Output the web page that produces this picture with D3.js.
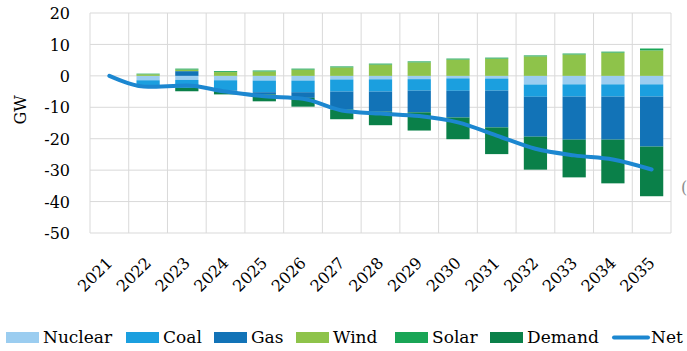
<!DOCTYPE html>
<html><head><meta charset="utf-8">
<script src="https://cdn.jsdelivr.net/npm/d3@7"></script>
<style>
html,body{margin:0;padding:0;background:#fff;}
svg{display:block;}
text{font-family:"DejaVu Serif",serif;fill:#000;}
</style></head>
<body>
<svg id="chart" width="687" height="351"></svg>
<script>
const years = ["2021","2022","2023","2024","2025","2026","2027","2028","2029","2030","2031","2032","2033","2034","2035"];
const nuclear = [0,-1.4,-1.3,-1.4,-1.5,-1.5,-1.15,-1.1,-1.05,-0.8,-0.85,-2.75,-2.7,-2.7,-2.7];
const coal    = [0,-1.6,-2.5,-3.3,-3.7,-3.7,-3.85,-3.9,-3.65,-3.95,-3.85,-3.9,-3.9,-3.9,-3.9];
const gas     = [0,0,1.5,-0.2,-0.7,-1.8,-5.7,-6.4,-6.9,-8.5,-11.7,-12.7,-13.7,-13.7,-15.9];
const wind    = [0,0.5,0.5,1.2,1.4,2.0,2.7,3.6,4.3,5.2,5.5,6.2,6.8,7.4,8.1];
const solar   = [0,0.2,0.3,0.3,0.3,0.3,0.3,0.3,0.3,0.3,0.3,0.3,0.3,0.3,0.6];
const demand  = [0,-0.6,-1.1,-1.0,-2.2,-2.8,-3.1,-4.3,-5.8,-6.9,-8.5,-10.5,-12.0,-13.9,-15.8];
const net     = [0,-3.5,-3.1,-5.0,-6.5,-7.3,-11.0,-12.0,-12.8,-14.8,-19.0,-23.2,-25.3,-26.6,-29.8];
const yTicks  = [20,10,0,-10,-20,-30,-40,-50];

const seriesNames = ["Nuclear","Coal","Gas","Wind","Solar","Demand"];
const seriesValues = [nuclear,coal,gas,wind,solar,demand];
const colors = {Nuclear:"#9bcdf0",Coal:"#1b9fdf",Gas:"#1273b7",Wind:"#8ec34a",Solar:"#19a556",Demand:"#0a8049",Net:"#1c87d0"};

const rows = years.map((y,i)=>{const r={year:y};seriesNames.forEach((s,k)=>r[s]=seriesValues[k][i]);return r;});

const svg = d3.select("#chart");
const L=90,R=671,T=13,B=233;
const x = d3.scaleBand().domain(years).range([L,R]).paddingInner(0).paddingOuter(0);
const y = d3.scaleLinear().domain([-50,20]).range([B,T]);

// gridlines
const g = svg.append("g");
g.selectAll("line.h").data(yTicks).join("line")
 .attr("x1",L).attr("x2",R).attr("y1",d=>y(d)).attr("y2",d=>y(d))
 .attr("stroke","#d9d9d9").attr("stroke-width",1);
const vb = d3.range(years.length+1).map(i=> i<years.length ? x(years[i]) : R);
g.selectAll("line.v").data(vb).join("line")
 .attr("x1",d=>d).attr("x2",d=>d).attr("y1",T).attr("y2",B)
 .attr("stroke","#d9d9d9").attr("stroke-width",1);

// y axis labels
const yAxis = d3.axisLeft(y).tickValues(yTicks).tickSize(0).tickPadding(0).tickFormat(d=>String(d));
const ya = svg.append("g").attr("transform",`translate(70,0)`).call(yAxis);
ya.select(".domain").remove();
ya.selectAll("text").attr("font-size",16).attr("font-family","DejaVu Serif").attr("fill","#000").attr("dy","0.35em");

// x axis labels
const xAxis = d3.axisBottom(x).tickSize(0).tickPadding(0);
const xa = svg.append("g").attr("transform",`translate(0,${B})`).call(xAxis);
xa.select(".domain").remove();
xa.selectAll("text").attr("font-size",16).attr("font-family","DejaVu Serif").attr("fill","#000")
 .attr("text-anchor","end").attr("dy",null).attr("y",null)
 .attr("transform","translate(4,31) rotate(-45)");

// bars
const stack = d3.stack().keys(seriesNames).offset(d3.stackOffsetDiverging).order(d3.stackOrderNone);
const stacked = stack(rows);
const bw = x.bandwidth()*0.6;
svg.append("g").selectAll("g").data(stacked).join("g")
 .attr("fill",d=>colors[d.key])
 .selectAll("rect").data(d=>d).join("rect")
 .attr("x",d=>x(d.data.year)+x.bandwidth()/2-bw/2)
 .attr("width",bw)
 .attr("y",d=>y(Math.max(d[0],d[1])))
 .attr("height",d=>Math.abs(y(d[0])-y(d[1])));

// net line
const line = d3.line().x((d,i)=>x(years[i])+x.bandwidth()/2).y(d=>y(d)).curve(d3.curveMonotoneX);
svg.append("path").datum(net).attr("d",line).attr("fill","none")
 .attr("stroke",colors.Net).attr("stroke-width",4).attr("stroke-linecap","round").attr("stroke-linejoin","round");

// cut-off label at right edge
svg.append("text").attr("x",681).attr("y",193).attr("font-size",16).style("fill","#8c8c8c").text("(");

// y axis title
svg.append("text").attr("transform","translate(26,110) rotate(-90)").attr("text-anchor","middle")
 .attr("font-size",16).text("GW");

// legend
const legendItems = [
 {name:"Nuclear",x:6},{name:"Coal",x:126},{name:"Gas",x:214},{name:"Wind",x:296},
 {name:"Solar",x:395},{name:"Demand",x:490},{name:"Net",x:613}
];
const lg = svg.append("g");
legendItems.forEach(it=>{
  if(it.name==="Net"){
    lg.append("line").attr("x1",it.x+1).attr("x2",it.x+35).attr("y1",337.5).attr("y2",337.5)
      .attr("stroke",colors.Net).attr("stroke-width",4).attr("stroke-linecap","round");
    lg.append("text").attr("x",it.x+38).attr("y",342.5).attr("font-size",17).text(it.name);
  } else {
    lg.append("rect").attr("x",it.x).attr("y",332).attr("width",33).attr("height",11).attr("fill",colors[it.name]);
    lg.append("text").attr("x",it.x+37).attr("y",342.5).attr("font-size",17).text(it.name);
  }
});
</script>
</body></html>
